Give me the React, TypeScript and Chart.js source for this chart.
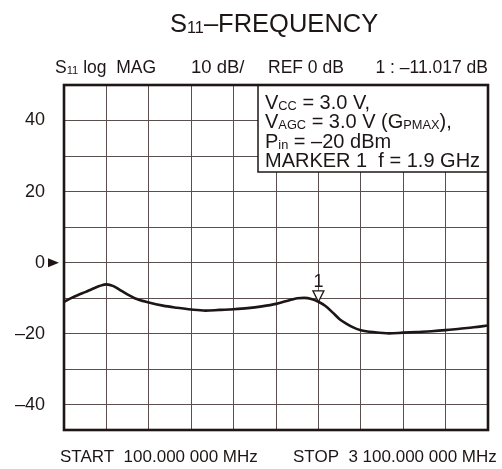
import React, { useEffect, useRef } from "react";
import { Chart, registerables } from "chart.js";

Chart.register(...registerables);

// Frequency sweep (MHz) and S11 magnitude (dB)
const freqMHz = [100, 150, 200, 250, 300, 350, 400, 450, 500, 600, 700, 800, 900, 1000, 1100, 1200, 1300, 1400, 1500, 1600, 1700, 1750, 1800, 1850, 1900, 1950, 2000, 2050, 2100, 2150, 2200, 2300, 2400, 2500, 2600, 2700, 2800, 2900, 3000, 3100];
const s11dB = [-11.0, -10.0, -9.1, -8.3, -7.4, -6.6, -6.1, -6.6, -7.8, -10.0, -11.2, -12.1, -12.7, -13.2, -13.5, -13.3, -13.1, -12.8, -12.3, -11.6, -10.5, -10.0, -9.9, -10.2, -11.0, -12.2, -14.0, -15.9, -17.2, -18.3, -19.0, -19.6, -19.9, -19.7, -19.5, -19.3, -19.0, -18.6, -18.2, -17.7];

const yTickValues = [-40, -30, -20, -10, 0, 10, 20, 30, 40, 50];
const yLabelValues = [-40, -20, 0, 20, 40];
const xStart = 100;
const xStop = 3100;
const xStep = 300;
const markerFreq = 1900;
const markerValue = -11.017;

const FONT = '"Liberation Sans", Arial, Helvetica, sans-serif';
const INK = "#1e1616";

type Part = [string, boolean];

function drawRich(ctx: CanvasRenderingContext2D, x: number, y: number, parts: Part[], size: number) {
  let cx = x;
  for (const [t, sub] of parts) {
    const s = sub ? size * 0.64 : size;
    ctx.font = `${s}px ${FONT}`;
    ctx.fillText(t, cx, sub ? y + size * 0.06 : y);
    cx += ctx.measureText(t).width;
  }
}

const decorPlugin = {
  id: "decor",
  afterDraw(chart: any) {
    const ctx: CanvasRenderingContext2D = chart.ctx;
    const { left, top, right, bottom } = chart.chartArea;
    const xs = chart.scales.x;
    const ys = chart.scales.y;
    ctx.save();
    ctx.fillStyle = INK;
    ctx.textAlign = "left";
    ctx.textBaseline = "alphabetic";

    // Title
    drawRich(ctx, 170, 31.5, [["S", false], ["11", true], ["–FREQUENCY", false]], 25.5);

    // Header line
    const hs = 17.5;
    drawRich(ctx, 55, 73, [["S", false], ["11", true], [" log  MAG", false]], hs);
    drawRich(ctx, 191, 73, [["10 dB/", false]], 18.5);
    drawRich(ctx, 268, 73, [["REF 0 dB", false]], hs);
    ctx.font = `${hs}px ${FONT}`;
    ctx.textAlign = "right";
    ctx.fillText("1 : –" + Math.abs(markerValue).toFixed(3) + " dB", 488, 73);
    ctx.textAlign = "left";

    // Bottom labels
    ctx.font = `17px ${FONT}`;
    ctx.fillText("START  " + "100.000 000 MHz", 60, 462);
    ctx.fillText("STOP  3 100.000 000 MHz", 293, 462);

    // Zero reference arrow
    const y0 = ys.getPixelForValue(0);
    ctx.beginPath();
    ctx.moveTo(48, y0 - 4.5);
    ctx.lineTo(59, y0);
    ctx.lineTo(48, y0 + 4.5);
    ctx.closePath();
    ctx.fill();

    // Marker 1
    const mx = xs.getPixelForValue(markerFreq);
    const my = ys.getPixelForValue(markerValue);
    ctx.beginPath();
    ctx.moveTo(mx, my);
    ctx.lineTo(mx - 5.5, my - 11);
    ctx.lineTo(mx + 5.5, my - 11);
    ctx.closePath();
    ctx.fillStyle = "#ffffff";
    ctx.fill();
    ctx.lineWidth = 1.3;
    ctx.strokeStyle = INK;
    ctx.stroke();
    ctx.fillStyle = INK;
    ctx.font = `18px ${FONT}`;
    ctx.textAlign = "center";
    ctx.fillText("1", mx, my - 15);
    ctx.textAlign = "left";

    // Condition box
    const bx = 258, by = top, bw = right - 258, bh = 87;
    ctx.fillStyle = "#ffffff";
    ctx.fillRect(bx, by, bw, bh);
    ctx.lineWidth = 1.5;
    ctx.strokeStyle = INK;
    ctx.strokeRect(bx, by, bw, bh);
    ctx.fillStyle = INK;
    const fs = 20;
    drawRich(ctx, 265, 108.5, [["V", false], ["CC", true], [" = 3.0 V,", false]], fs);
    drawRich(ctx, 265, 128, [["V", false], ["AGC", true], [" = 3.0 V (G", false], ["PMAX", true], ["),", false]], fs);
    drawRich(ctx, 265, 147.5, [["P", false], ["in", true], [" = –20 dBm", false]], fs);
    drawRich(ctx, 265, 167, [["MARKER 1  f = 1.9 GHz", false]], fs);

    // Frame
    ctx.lineWidth = 2.6;
    ctx.strokeStyle = INK;
    ctx.strokeRect(left, top, right - left, bottom - top);
    ctx.restore();
  },
};

export default function App() {
  const canvasRef = useRef<HTMLCanvasElement | null>(null);

  useEffect(() => {
    const canvas = canvasRef.current;
    if (!canvas) return;
    const chart = new Chart(canvas, {
      type: "line",
      data: {
        datasets: [
          {
            data: freqMHz.map((f, i) => ({ x: f, y: s11dB[i] })),
            borderColor: INK,
            borderWidth: 2.6,
            pointRadius: 0,
            cubicInterpolationMode: "monotone",
            fill: false,
          },
        ],
      },
      options: {
        animation: false,
        responsive: false,
        maintainAspectRatio: false,
        layout: { padding: { left: 0, top: 85, right: 14, bottom: 39 } },
        plugins: { legend: { display: false }, tooltip: { enabled: false }, title: { display: false } },
        scales: {
          x: {
            type: "linear",
            min: xStart,
            max: xStop,
            ticks: { display: false, stepSize: xStep },
            grid: { color: "#5a4e4e", lineWidth: 1, drawTicks: false },
            border: { display: false },
          },
          y: {
            type: "linear",
            min: -47.1,
            max: 50,
            afterBuildTicks: (axis: any) => {
              axis.ticks = yTickValues.map((v) => ({ value: v }));
            },
            afterFit: (axis: any) => {
              axis.width = 64;
            },
            ticks: {
              padding: 19,
              color: INK,
              font: { family: FONT, size: 18 },
              callback: (v: any) => {
                const n = Number(v);
                if (!yLabelValues.includes(n)) return "";
                return n < 0 ? "–" + Math.abs(n) : String(n);
              },
            },
            grid: { color: "#5a4e4e", lineWidth: 1, drawTicks: false },
            border: { display: false },
          },
        },
      },
      plugins: [decorPlugin],
    } as any);
    return () => chart.destroy();
  }, []);

  return (
    <div style={{ position: "fixed", left: 0, top: 0, width: 502, height: 469, background: "#fff" }}>
      <canvas ref={canvasRef} width={502} height={469} style={{ width: 502, height: 469 }} />
    </div>
  );
}
